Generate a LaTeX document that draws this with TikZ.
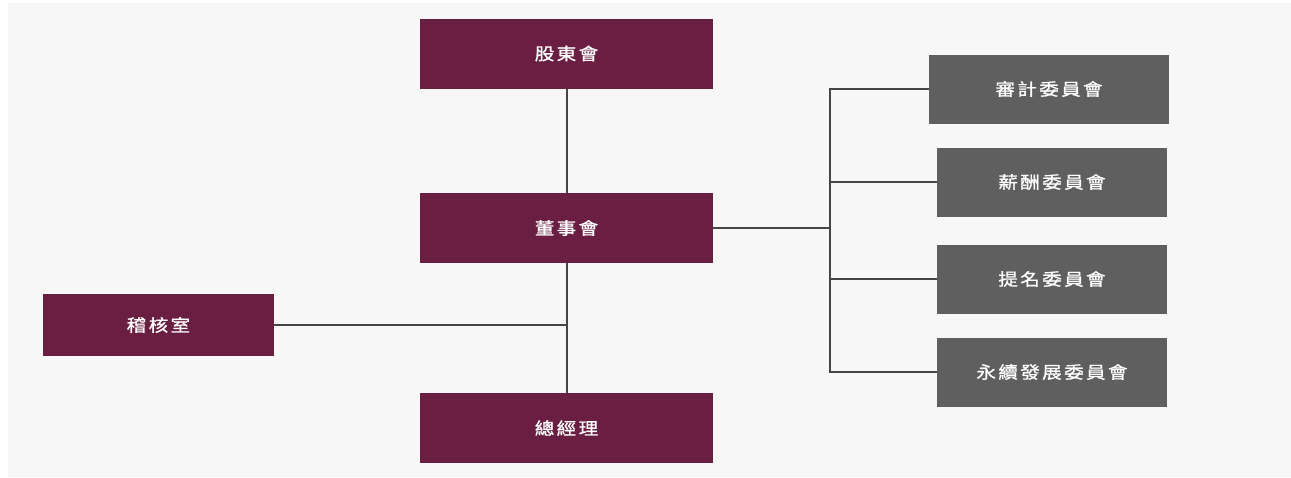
\documentclass[tikz,border=0pt]{standalone}
\usepackage{fontspec}
\newfontfamily\cjk[LetterSpace=14,FakeBold=1,FakeStretch=1.15]{Noto Sans CJK TC}
\definecolor{bgc}{HTML}{F7F7F7}
\definecolor{maroon}{HTML}{6A1F42}
\definecolor{boxgray}{HTML}{5F5F5F}
\definecolor{linec}{HTML}{454545}
\tikzset{
  orgbox/.style={rectangle, inner sep=0pt, text=white, font=\cjk\fontsize{17}{20}\selectfont},
  mbox/.style={orgbox, fill=maroon, minimum width=293pt, minimum height=70pt},
  abox/.style={orgbox, fill=maroon, minimum width=231pt, minimum height=62pt},
  gbox/.style={orgbox, fill=boxgray, minimum width=230pt, minimum height=69pt},
  conn/.style={draw=linec, line width=2pt}
}
\begin{document}
\begin{tikzpicture}[x=1pt,y=-1pt]
\useasboundingbox (0,0) rectangle (1291,477);
\fill[white] (0,0) rectangle (1291,477);
\fill[bgc] (8,3) rectangle (1291,477);
\node[mbox] (sh) at (566.5,53.5) {股東會};
\node[mbox] (bd) at (566.5,228) {董事會};
\node[mbox] (gm) at (566.5,428) {總經理};
\node[abox] (au) at (158.5,325) {稽核室};
\node[gbox, minimum width=240pt] (c1) at (1049,89) {審計委員會};
\node[gbox] (c2) at (1052,182) {薪酬委員會};
\node[gbox] (c3) at (1052,279) {提名委員會};
\node[gbox] (c4) at (1052,372) {永續發展委員會};
\coordinate (jl) at (567,325);
\coordinate (bt) at (830,89);
\coordinate (bb) at (830,372);
\coordinate (bm) at (830,228);
\draw[conn] (sh.south) -- (bd.north);
\draw[conn] (bd.south) -- (gm.north);
\draw[conn] (au.east) -- (jl);
\draw[conn] (bd.east) -- (bm);
\draw[conn] (c1.west) -- (bt) -- (bb) -- (c4.west);
\draw[conn] (c2.west) -- (c2.west -| bt);
\draw[conn] (c3.west) -- (c3.west -| bt);
\end{tikzpicture}
\end{document}
